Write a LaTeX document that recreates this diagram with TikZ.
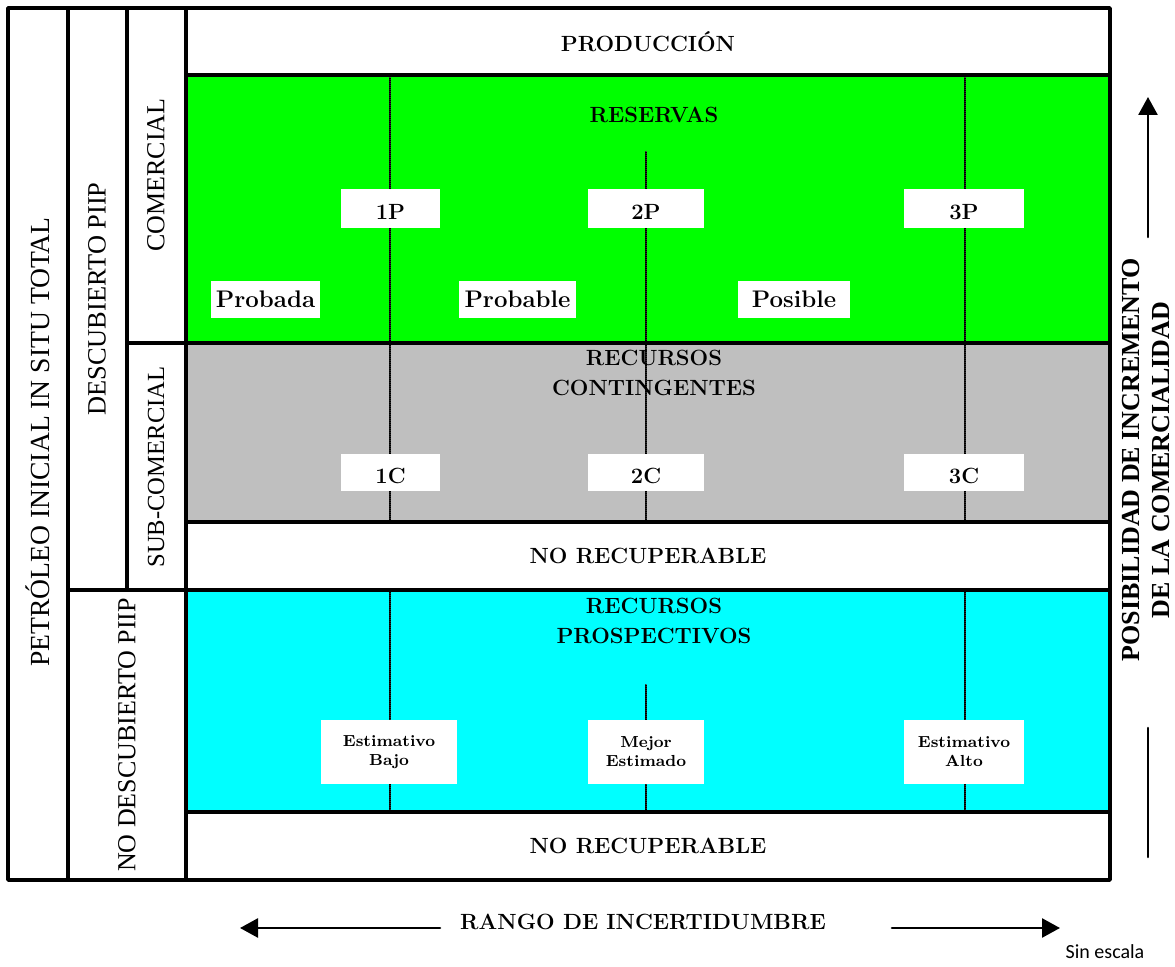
\documentclass[tikz,border=0pt]{standalone}
\usepackage{fontspec}
\newfontfamily\timesf{Liberation Serif}
\newfontfamily\calibrif{Carlito}
\usetikzlibrary{arrows.meta}
\definecolor{verde}{RGB}{0,255,0}
\definecolor{gris}{RGB}{191,191,191}
\definecolor{celeste}{RGB}{0,255,255}
\tikzset{
  marco/.style={line width=1.9pt},
  punteado/.style={line width=1pt, dash pattern=on 0.5pt off 0.5pt},
  caja/.style={fill=white, inner sep=0pt, minimum height=19.5pt, text height=11pt, text depth=0pt, font=\bfseries\fontsize{11}{13}\selectfont},
  cajabig/.style={fill=white, inner sep=0pt, minimum height=18.5pt, font=\bfseries\fontsize{12}{14}\selectfont},
  cajachica/.style={fill=white, inner sep=0pt, minimum height=32pt, align=center, font=\bfseries\fontsize{8}{9.5}\selectfont},
  titulo/.style={align=center, font=\bfseries\fontsize{11}{15}\selectfont},
  lateral/.style={rotate=90, font=\timesf\fontsize{13}{15}\selectfont},
  flecha/.style={line width=1.3pt, -{Triangle[length=9pt,width=9.5pt]}}
}
\begin{document}
\begin{tikzpicture}[x=0.5pt,y=-0.5pt,line join=round,line cap=round]
    \useasboundingbox (0,0) rectangle (1175,967);
    % zonas de color
    \fill[verde] (186,75) rectangle (1110,343);
    \fill[gris] (186,343) rectangle (1110,522);
    \fill[celeste] (186,590) rectangle (1110,812);
    % lineas de incertidumbre
    \foreach \xa/\ya/\yb in {390/78/343, 646/152/343, 965/78/343, 390/343/522, 646/343/522, 965/343/522, 390/590/812, 646/685/812, 965/590/812}{
        \draw[white, line width=1pt] (\xa,\ya) -- (\xa,\yb);
        \draw[punteado] (\xa,\ya) -- (\xa,\yb);
    }
    % marco
    \draw[marco] (8,8) rectangle (1110,880);
    \draw[marco] (68,8) -- (68,880);
    \draw[marco] (127,8) -- (127,590);
    \draw[marco] (186,8) -- (186,880);
    \draw[marco] (186,75) -- (1110,75);
    \draw[marco] (127,343) -- (1110,343);
    \draw[marco] (186,522) -- (1110,522);
    \draw[marco] (68,590) -- (1110,590);
    \draw[marco] (186,812) -- (1110,812);
    % titulos
    \node[titulo] (prod) at (648,42) {PRODUCCIÓN};
    \node[titulo] (res) at (654,115) {RESERVAS};
    \node[titulo] (cont) at (654,373) {RECURSOS\\CONTINGENTES};
    \node[titulo] (norec1) at (648,556) {NO RECUPERABLE};
    \node[titulo] (prosp) at (654,621) {RECURSOS\\PROSPECTIVOS};
    \node[titulo] (norec2) at (648,846) {NO RECUPERABLE};
    % cajas
    \node[caja, minimum width=49.5pt] (p1) at (390.5,208.5) {1P};
    \node[caja, minimum width=58pt] (p2) at (646,208.5) {2P};
    \node[caja, minimum width=60pt] (p3) at (964,208.5) {3P};
    \node[cajabig, minimum width=54.5pt] (proba) at (265.5,299.5) {Probada};
    \node[cajabig, minimum width=58.5pt] (proble) at (517.5,299.5) {Probable};
    \node[cajabig, minimum width=56pt] (posi) at (794,299.5) {Posible};
    \node[caja, minimum height=18.5pt, minimum width=49.5pt] (c1) at (390.5,472.5) {1C};
    \node[caja, minimum height=18.5pt, minimum width=58pt] (c2) at (646,472.5) {2C};
    \node[caja, minimum height=18.5pt, minimum width=60pt] (c3) at (964,472.5) {3C};
    \node[cajachica, minimum width=68pt] (bajo) at (389,752) {Estimativo\\Bajo};
    \node[cajachica, minimum width=58pt] (mejor) at (646,752) {Mejor\\Estimado};
    \node[cajachica, minimum width=60pt] (alto) at (964,752) {Estimativo\\Alto};
    % textos laterales
    \node[lateral, font=\timesf\fontsize{13.8}{15}\selectfont] (piip) at (38,442) {PETRÓLEO INICIAL IN SITU TOTAL};
    \node[lateral, font=\timesf\fontsize{13.2}{15}\selectfont] (desc) at (97,299) {DESCUBIERTO PIIP};
    \node[lateral] (com) at (156,175) {COMERCIAL};
    \node[lateral, font=\timesf\fontsize{12.3}{15}\selectfont] (subcom) at (156,467) {SUB-COMERCIAL};
    \node[lateral] (nodesc) at (127,735) {NO DESCUBIERTO PIIP};
    \node[rotate=90, align=center, font=\timesf\bfseries\fontsize{13}{15}\selectfont] (posib) at (1146,460) {POSIBILIDAD DE INCREMENTO\\DE LA COMERCIALIDAD};
    % flechas
    \coordinate (ua) at (1148,237);
    \coordinate (ub) at (1148,97);
    \coordinate (la) at (1148,728);
    \coordinate (lb) at (1148,857);
    \draw[flecha] (ua) -- (ub);
    \draw[line width=1.3pt] (la) -- (lb);
    \node[titulo] (rango) at (643,922) {RANGO DE INCERTIDUMBRE};
    \coordinate (ia) at (440,928);
    \coordinate (ib) at (240,928);
    \coordinate (da) at (892,928);
    \coordinate (db) at (1060,928);
    \draw[flecha] (ia) -- (ib);
    \draw[flecha] (da) -- (db);
    \node[font=\calibrif\fontsize{10}{11}\selectfont] (esc) at (1105,952) {Sin escala};
\end{tikzpicture}
\end{document}
